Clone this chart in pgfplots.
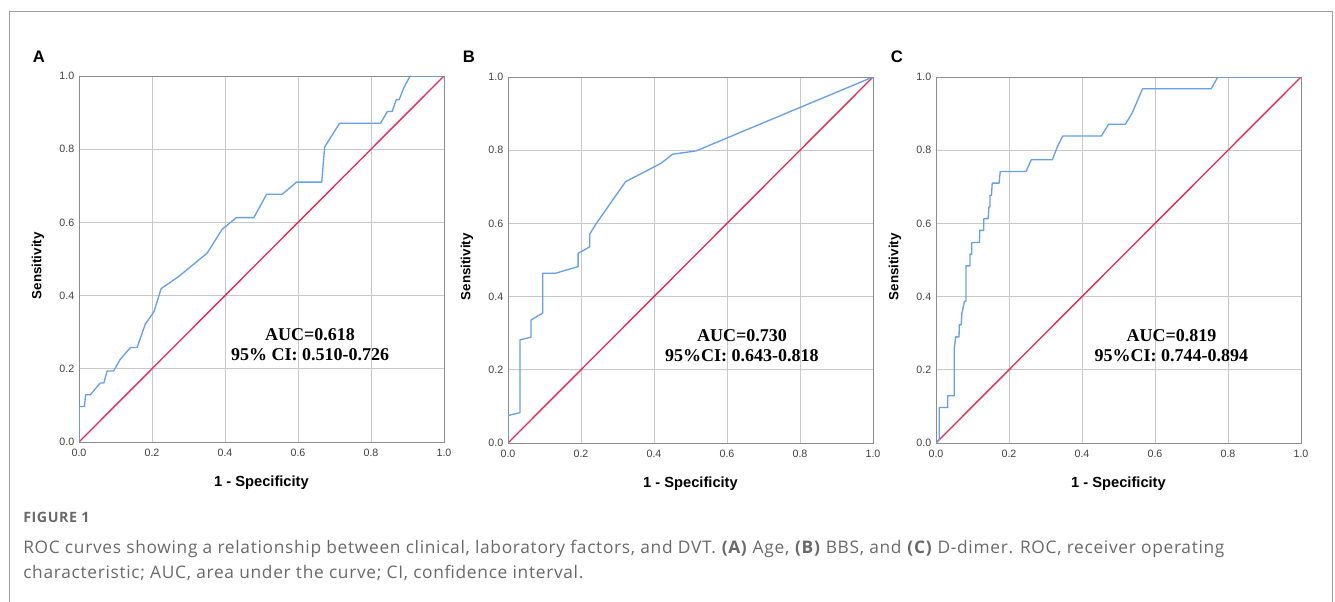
\documentclass[border=0pt]{standalone}
\usepackage{fontspec}
\setmainfont{Liberation Sans}
\newfontfamily\timesfont{Liberation Serif}
\newfontfamily\capfont[LetterSpace=4]{Open Sans}
\usepackage{pgfplots}
\pgfplotsset{compat=1.18}
\definecolor{rocblue}{RGB}{100,160,235}
\definecolor{diagred}{RGB}{232,40,80}
\definecolor{gridgray}{RGB}{200,200,200}
\definecolor{framegray}{RGB}{140,140,140}
\definecolor{captiongray}{RGB}{105,105,105}

% one ROC panel, SPSS look
\pgfplotsset{
  rocpanel/.style={
    scale only axis, width=273.75pt, height=274.5pt,
    anchor=south west, clip mode=individual,
    xmin=0, xmax=1, ymin=0, ymax=1,
    xtick={0,0.2,0.4,0.6,0.8,1}, ytick={0,0.2,0.4,0.6,0.8,1},
    grid=major,
    major grid style={gridgray, line width=0.75pt},
    axis line style={framegray, line width=0.75pt},
    major tick length=0pt,
    xticklabel style={font=\fontsize{8}{9}\selectfont, text=black!75, yshift=-2pt},
    yticklabel style={font=\fontsize{8}{9}\selectfont, text=black!75},
    /pgf/number format/.cd, fixed, fixed zerofill, precision=1, assume math mode=true,
  },
  roc/.style={rocblue, line width=1pt, line join=round},
  diag/.style={diagred, line width=1pt},
}
\newcommand{\axlabels}{%
  \node[font=\bfseries\fontsize{11}{12}\selectfont] at ([yshift=-30.75pt]rel axis cs:0.5,0) {1 - Specificity};
  \node[font=\bfseries\fontsize{10}{11}\selectfont, rotate=90] at ([xshift=-30.75pt,yshift=-5pt]rel axis cs:0,0.5) {Sensitivity};
}

\begin{document}
\begin{tikzpicture}
% outer frame
\draw[framegray!85, line width=0.75pt] (6.75pt,-5pt) -- (6.75pt,441.75pt) -- (999pt,441.75pt) -- (999pt,-5pt);

% A: Age
\begin{axis}[rocpanel, at={(59.25pt,119.25pt)}]
\addplot[diag] coordinates {(0,0) (1,1)};
\addplot[roc] coordinates {
 (0,0) (0,0.097) (0.015,0.097) (0.018,0.129) (0.031,0.129) (0.058,0.161)
 (0.068,0.161) (0.077,0.194) (0.095,0.194) (0.113,0.226) (0.141,0.258)
 (0.159,0.258) (0.182,0.323) (0.205,0.355) (0.225,0.419) (0.273,0.452)
 (0.351,0.516) (0.392,0.581) (0.431,0.613) (0.479,0.613) (0.514,0.677)
 (0.557,0.677) (0.596,0.710) (0.665,0.710) (0.673,0.806) (0.714,0.871)
 (0.826,0.871) (0.845,0.903) (0.858,0.903) (0.869,0.935) (0.877,0.935)
 (0.890,0.968) (0.907,1) (1,1)
};
\node[font=\timesfont\bfseries\fontsize{13.5}{15}\selectfont, align=center] at (axis cs:0.633,0.265) {AUC=0.618\\95\% CI: 0.510-0.726};
\axlabels
\end{axis}

% B: BBS
\begin{axis}[rocpanel, at={(381pt,118.5pt)}]
\addplot[diag] coordinates {(0,0) (1,1)};
\addplot[roc] coordinates {
 (0,0) (0,0.075) (0.033,0.083) (0.033,0.282) (0.063,0.289) (0.063,0.336)
 (0.095,0.355) (0.095,0.464) (0.131,0.464) (0.192,0.482) (0.192,0.518)
 (0.224,0.536) (0.224,0.571) (0.242,0.600) (0.322,0.714) (0.419,0.764)
 (0.451,0.789) (0.515,0.798) (1,1)
};
\node[font=\timesfont\bfseries\fontsize{13.5}{15}\selectfont, align=center] at (axis cs:0.641,0.265) {AUC=0.730\\95\%CI: 0.643-0.818};
\axlabels
\end{axis}

% C: D-dimer
\begin{axis}[rocpanel, at={(702pt,118.5pt)}]
\addplot[diag] coordinates {(0,0) (1,1)};
\addplot[roc] coordinates {
 (0,0) (0.009,0.01) (0.009,0.097) (0.032,0.097) (0.032,0.129) (0.050,0.129)
 (0.050,0.258) (0.054,0.290) (0.063,0.290) (0.064,0.323) (0.069,0.323)
 (0.071,0.355) (0.078,0.387) (0.082,0.387) (0.082,0.484) (0.093,0.484)
 (0.093,0.516) (0.098,0.516) (0.098,0.548) (0.119,0.548) (0.120,0.581)
 (0.131,0.581) (0.131,0.613) (0.143,0.613) (0.145,0.645) (0.148,0.645)
 (0.148,0.677) (0.152,0.677) (0.154,0.710) (0.173,0.710) (0.176,0.742)
 (0.247,0.742) (0.261,0.774) (0.319,0.774) (0.331,0.806) (0.347,0.839)
 (0.453,0.839) (0.473,0.871) (0.519,0.871) (0.538,0.903) (0.566,0.968)
 (0.754,0.968) (0.772,1) (1,1)
};
\node[font=\timesfont\bfseries\fontsize{13.5}{15}\selectfont, align=center] at (axis cs:0.645,0.265) {AUC=0.819\\95\%CI: 0.744-0.894};
\axlabels
\end{axis}

% panel letters
\foreach \lx/\lt in {29.25pt/A, 351.75pt/B, 672.75pt/C}
  \node[font=\bfseries\fontsize{12.5}{13}\selectfont] at (\lx,408pt) {\lt};

% caption
\node[anchor=base west, inner sep=0pt, font=\capfont\bfseries\fontsize{10.7}{12}\selectfont, text=captiongray] at (17.25pt,59.25pt) {FIGURE 1};
\node[anchor=base west, inner sep=0pt, font=\capfont\fontsize{13}{14}\selectfont, text=captiongray] at (17.25pt,36pt)
  {ROC curves showing a relationship between clinical, laboratory factors, and DVT. \textbf{(A)} Age, \textbf{(B)} BBS, and \textbf{(C)} D-dimer. ROC, receiver operating};
\node[anchor=base west, inner sep=0pt, font=\capfont\fontsize{13}{14}\selectfont, text=captiongray] at (17.25pt,17.25pt)
  {characteristic; AUC, area under the curve; CI, confidence interval.};

\pgfresetboundingbox
\useasboundingbox (0,0) rectangle (1001.25pt,450.75pt);
\end{tikzpicture}
\end{document}
